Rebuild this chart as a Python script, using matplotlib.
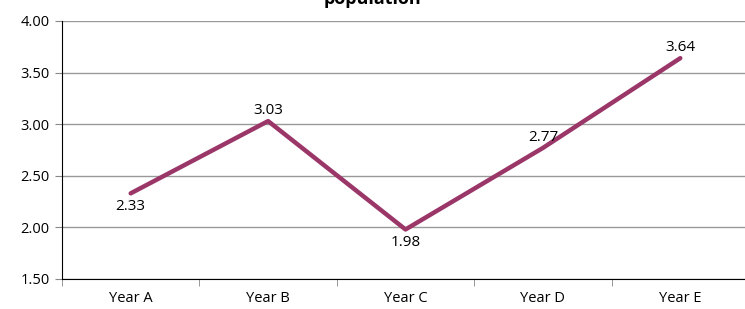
import matplotlib.pyplot as plt

# === Data ===
years = ["Year A", "Year B", "Year C", "Year D", "Year E"]
values = [2.33, 3.03, 1.98, 2.77, 3.64]
label_pos = ["below", "above", "below", "above", "above"]
yticks = [1.50, 2.00, 2.50, 3.00, 3.50, 4.00]

plt.rcParams['font.family'] = ['Open Sans', 'DejaVu Sans']

fig = plt.figure(figsize=(7.45, 3.09), dpi=100)
ax = fig.add_axes([62 / 745, 1 - 279 / 309, (749 - 62) / 745, (279 - 21) / 309])

x = list(range(len(years)))
ax.plot(x, values, color="#9b3668", linewidth=3.2, solid_capstyle="round", zorder=3)

for xi, v, pos in zip(x, values, label_pos):
    if pos == "above":
        ax.annotate(f"{v:.2f}", (xi, v), xytext=(0, 2), textcoords="offset points",
                    ha="center", va="bottom", fontsize=11)
    else:
        ax.annotate(f"{v:.2f}", (xi, v), xytext=(0, -4), textcoords="offset points",
                    ha="center", va="top", fontsize=11)

ax.set_xlim(-0.5, len(years) - 0.5)
ax.set_ylim(1.5, 4.0)
ax.set_yticks(yticks)
ax.set_yticklabels([f"{t:.2f}" for t in yticks], fontsize=10.5)
ax.set_xticks(x)
ax.set_xticklabels(years, fontsize=10.5)
ax.set_xticks([i - 0.5 for i in range(len(years) + 1)], minor=True)
ax.tick_params(axis="x", which="major", length=0, pad=9)
ax.tick_params(axis="x", which="minor", length=5, color="#888888")
ax.tick_params(axis="y", length=5, color="#888888", pad=4)

ax.grid(axis="y", color="#999999", linewidth=1)
ax.set_axisbelow(True)
for s in ["top", "right"]:
    ax.spines[s].set_visible(False)
ax.spines["left"].set_color("black")
ax.spines["bottom"].set_color("black")

fig.text(0.5, 1 - 4 / 309, "population", ha="center", va="baseline",
         fontsize=13, fontweight="bold")

fig.savefig("out.png", dpi=100)
